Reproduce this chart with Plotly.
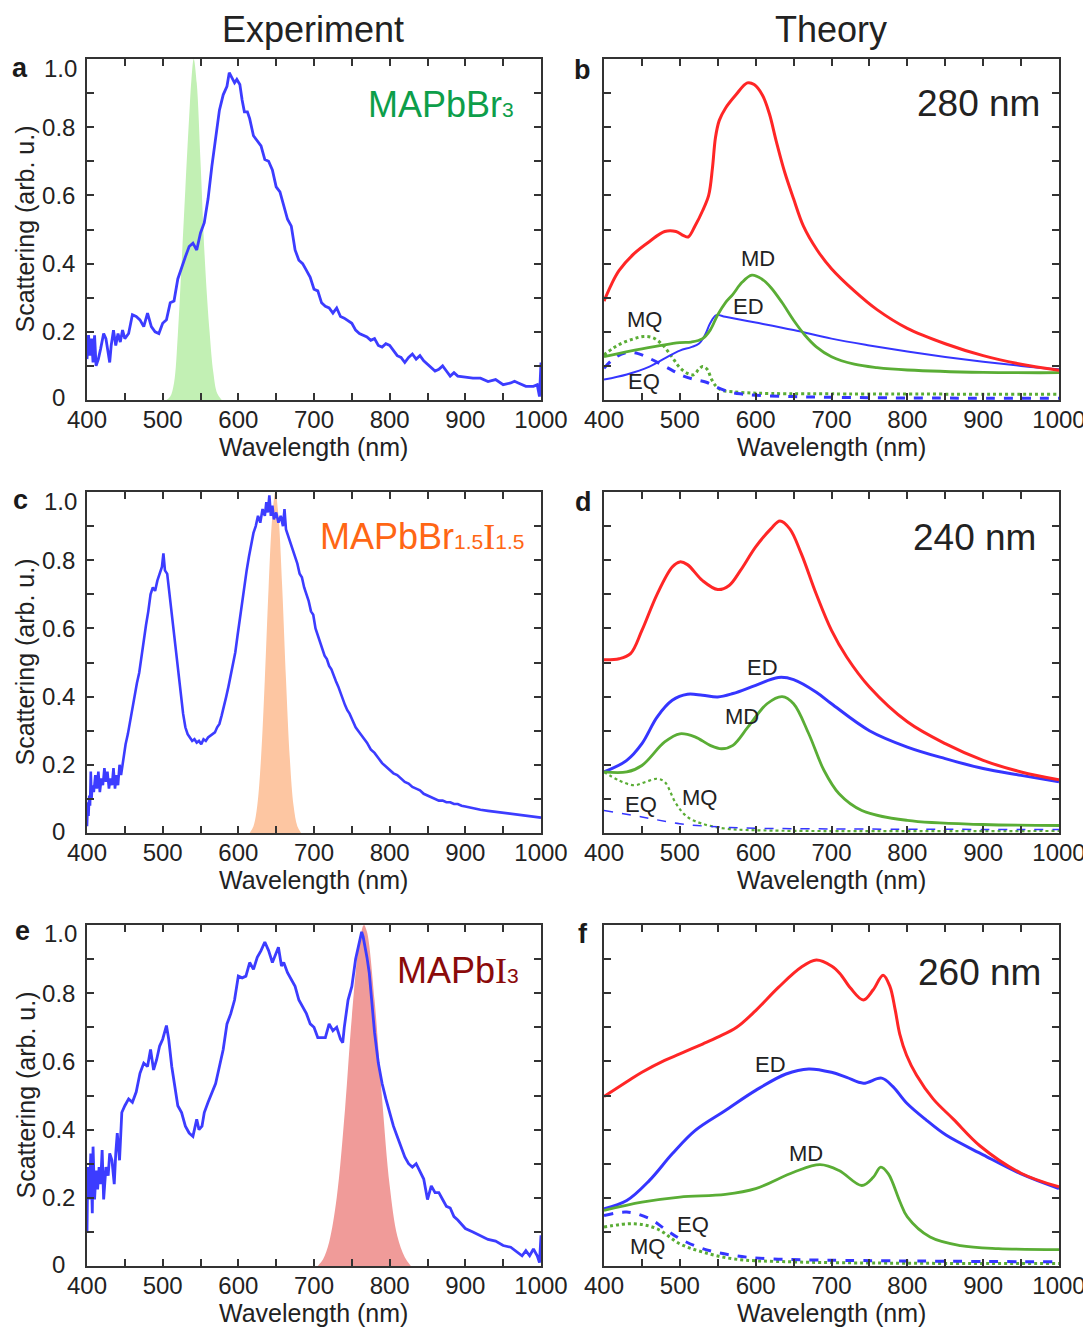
import plotly.graph_objects as go

W, H = 1091, 1327
OFF = 8  # page body margin offset of the plot div

# ---------------- Experimental data ----------------
a_wl = [400,402,404,406,408,410,412,415,418,422,425,428,430,432,435,438,441,444,447,450,455,460,465,470,475,480,485,490,495,500,505,510,515,520,525,530,535,540,545,550,555,560,565,570,575,580,585,588,592,595,598,602,605,608,612,615,620,625,630,635,640,645,650,655,660,665,670,675,680,685,690,695,700,705,710,715,720,725,730,735,740,750,755,760,770,775,780,785,790,795,800,805,810,815,820,825,830,835,840,845,850,855,860,865,870,875,880,885,890,900,910,920,930,940,950,960,965,970,980,990,995,998,999,1000]
a_val = [0.12,0.19,0.13,0.18,0.11,0.19,0.10,0.12,0.15,0.195,0.18,0.13,0.11,0.16,0.205,0.16,0.195,0.17,0.205,0.18,0.195,0.25,0.245,0.235,0.215,0.255,0.215,0.20,0.195,0.225,0.235,0.285,0.29,0.355,0.39,0.42,0.45,0.46,0.44,0.49,0.52,0.59,0.685,0.765,0.85,0.895,0.92,0.96,0.94,0.93,0.94,0.925,0.88,0.845,0.845,0.825,0.775,0.76,0.745,0.705,0.70,0.675,0.625,0.61,0.57,0.53,0.51,0.44,0.41,0.40,0.38,0.36,0.325,0.32,0.285,0.275,0.27,0.255,0.27,0.245,0.24,0.225,0.205,0.195,0.185,0.175,0.18,0.16,0.155,0.165,0.16,0.145,0.13,0.125,0.11,0.125,0.135,0.12,0.13,0.115,0.105,0.095,0.085,0.09,0.10,0.085,0.07,0.08,0.07,0.067,0.064,0.064,0.054,0.06,0.045,0.05,0.055,0.05,0.04,0.04,0.045,0.01,0.05,0.11]

a_fill_wl = [505,510,515,520,525,530,535,538,541,545,550,556,562,567,572,578]
a_fill_val = [0.0,0.01,0.05,0.19,0.40,0.62,0.83,0.94,1.0,0.93,0.70,0.40,0.20,0.08,0.02,0.0]

c_wl = [400,401,402,403,404,405,406,407,409,411,413,415,417,419,421,423,425,427,429,431,433,435,437,439,441,443,445,448,451,454,457,460,463,466,469,472,475,478,481,484,487,490,493,496,499,501,503,506,509,512,515,518,521,524,527,530,533,536,539,542,545,548,551,554,557,560,563,566,569,572,575,578,581,584,587,590,593,596,599,602,605,608,611,614,617,620,623,626,629,632,635,637,639,641,643,645,647,650,653,656,659,661,663,666,669,672,675,678,681,684,687,690,693,696,699,702,705,708,711,714,717,720,723,726,729,732,735,738,741,744,747,750,755,760,765,770,775,780,785,790,795,800,805,810,815,820,825,830,835,840,845,850,855,860,865,870,875,880,885,890,895,900,910,920,930,940,950,960,970,980,990,1000]
c_val = [0.02,0.09,0.05,0.11,0.08,0.18,0.10,0.14,0.12,0.17,0.13,0.18,0.12,0.16,0.14,0.19,0.15,0.18,0.13,0.16,0.14,0.19,0.13,0.17,0.14,0.20,0.17,0.22,0.26,0.29,0.33,0.36,0.40,0.44,0.47,0.52,0.56,0.61,0.65,0.70,0.72,0.71,0.74,0.76,0.78,0.82,0.77,0.76,0.70,0.64,0.59,0.52,0.46,0.40,0.35,0.31,0.29,0.28,0.27,0.275,0.265,0.27,0.26,0.275,0.27,0.28,0.285,0.29,0.295,0.31,0.32,0.345,0.37,0.40,0.43,0.46,0.50,0.53,0.58,0.63,0.68,0.72,0.77,0.81,0.85,0.88,0.90,0.93,0.91,0.95,0.93,0.97,0.94,0.99,0.93,0.96,0.92,0.94,0.91,0.93,0.90,0.95,0.89,0.87,0.85,0.83,0.81,0.79,0.76,0.75,0.72,0.70,0.68,0.65,0.64,0.60,0.58,0.56,0.545,0.52,0.51,0.49,0.48,0.46,0.445,0.43,0.41,0.39,0.375,0.36,0.35,0.335,0.31,0.295,0.28,0.265,0.245,0.235,0.22,0.205,0.195,0.185,0.175,0.17,0.16,0.15,0.145,0.135,0.13,0.125,0.115,0.11,0.105,0.10,0.095,0.095,0.09,0.09,0.085,0.085,0.08,0.078,0.072,0.068,0.065,0.062,0.058,0.055,0.052,0.05,0.047,0.045]

c_fill_wl = [615,620,625,630,635,640,645,649,653,658,663,668,673,678,683]
c_fill_val = [0.0,0.02,0.08,0.22,0.45,0.72,0.93,1.0,0.93,0.72,0.45,0.22,0.08,0.02,0.0]

e_wl = [400,401,403,405,407,408,410,412,414,416,418,420,422,425,428,430,433,436,438,440,443,446,450,455,460,465,470,475,480,484,488,492,496,500,505,508,512,515,520,525,530,535,540,545,548,552,555,560,565,570,575,580,585,590,595,600,605,610,615,620,625,630,635,640,645,650,653,657,660,665,670,675,680,685,690,695,700,705,710,715,720,725,730,735,738,740,745,750,755,760,763,765,768,770,773,777,780,785,790,795,800,805,810,815,820,825,830,835,840,845,850,855,860,865,870,875,880,885,890,900,910,920,930,940,950,960,970,975,980,985,990,995,998,1000]
e_val = [0.10,0.29,0.195,0.33,0.155,0.35,0.195,0.28,0.225,0.29,0.24,0.34,0.195,0.29,0.265,0.33,0.31,0.24,0.33,0.39,0.31,0.45,0.47,0.49,0.48,0.51,0.565,0.595,0.585,0.635,0.575,0.605,0.645,0.665,0.705,0.665,0.585,0.545,0.47,0.45,0.41,0.39,0.38,0.43,0.40,0.41,0.45,0.48,0.51,0.535,0.585,0.635,0.71,0.74,0.78,0.85,0.845,0.85,0.89,0.87,0.905,0.925,0.95,0.925,0.89,0.92,0.935,0.88,0.89,0.86,0.84,0.82,0.78,0.76,0.74,0.71,0.70,0.67,0.67,0.67,0.71,0.69,0.70,0.665,0.655,0.70,0.78,0.82,0.90,0.945,0.98,0.965,0.935,0.905,0.86,0.76,0.685,0.595,0.535,0.49,0.45,0.41,0.38,0.35,0.32,0.30,0.29,0.30,0.275,0.255,0.195,0.235,0.215,0.215,0.195,0.175,0.17,0.145,0.135,0.11,0.10,0.09,0.078,0.073,0.06,0.055,0.04,0.03,0.045,0.03,0.05,0.03,0.01,0.09]

e_fill_wl = [705,712,720,730,741,750,760,766,770,780,790,800,810,820,828]
e_fill_val = [0.0,0.02,0.07,0.20,0.46,0.73,0.95,1.0,0.98,0.78,0.49,0.236,0.089,0.026,0.0]

# ---------------- Theory data ----------------
b_red_wl = [400,410,420,440,460,480,495,505,511,520,530,538,543,547,552,560,574,589,598,609,618,627,638,650,663,681,700,730,760,800,850,900,950,1000]
b_red = [0.29,0.34,0.38,0.43,0.465,0.494,0.494,0.482,0.478,0.51,0.555,0.60,0.68,0.77,0.82,0.855,0.895,0.93,0.925,0.894,0.84,0.76,0.67,0.59,0.51,0.44,0.385,0.32,0.265,0.21,0.165,0.13,0.105,0.087]
b_md_wl = [400,450,500,515,530,540,550,560,570,582,595,608,620,635,650,665,680,700,730,760,800,900,1000]
b_md = [0.127,0.15,0.168,0.17,0.18,0.205,0.25,0.285,0.31,0.345,0.366,0.355,0.33,0.285,0.234,0.19,0.156,0.127,0.105,0.095,0.088,0.081,0.08]
b_ed_wl = [400,430,460,480,500,515,525,533,540,548,560,600,650,700,750,800,850,900,950,1000]
b_ed = [0.06,0.075,0.098,0.122,0.145,0.155,0.165,0.19,0.225,0.249,0.244,0.227,0.205,0.18,0.16,0.142,0.126,0.112,0.10,0.09]
b_eq_wl = [400,415,430,445,460,475,490,505,520,535,550,565,580,600,650,700,800,1000]
b_eq = [0.093,0.125,0.139,0.136,0.122,0.105,0.087,0.07,0.06,0.052,0.036,0.024,0.018,0.014,0.01,0.008,0.006,0.005]
b_mq_wl = [400,412,425,440,452,465,478,490,500,510,518,525,530,536,542,548,556,570,600,700,1000]
b_mq = [0.132,0.152,0.168,0.18,0.186,0.182,0.16,0.125,0.095,0.078,0.074,0.09,0.098,0.09,0.06,0.04,0.028,0.024,0.02,0.018,0.017]

d_red_wl = [400,420,435,450,470,490,500,510,530,550,565,580,600,620,632,645,660,680,700,720,750,800,850,900,950,1000]
d_red = [0.508,0.511,0.526,0.594,0.70,0.78,0.795,0.787,0.74,0.714,0.726,0.77,0.839,0.892,0.915,0.892,0.82,0.70,0.594,0.516,0.428,0.326,0.262,0.213,0.179,0.156]
d_ed_wl = [400,430,450,470,490,510,530,550,570,600,630,650,680,700,750,800,850,900,950,1000]
d_ed = [0.179,0.213,0.262,0.34,0.389,0.407,0.404,0.399,0.409,0.433,0.456,0.45,0.413,0.379,0.30,0.252,0.218,0.189,0.169,0.15]
d_md_wl = [400,430,450,480,500,520,540,555,570,590,615,635,650,670,690,710,740,800,900,1000]
d_md = [0.179,0.179,0.198,0.267,0.291,0.282,0.257,0.247,0.257,0.311,0.379,0.40,0.379,0.291,0.184,0.115,0.066,0.037,0.025,0.022]
d_mq_wl = [400,420,440,455,470,480,495,510,530,560,600,1000]
d_mq = [0.179,0.154,0.14,0.15,0.159,0.15,0.086,0.047,0.027,0.013,0.008,0.006]
d_eq_wl = [400,450,500,550,600,700,1000]
d_eq = [0.066,0.047,0.027,0.018,0.014,0.012,0.01]

f_red_wl = [400,430,450,480,500,530,550,575,600,630,660,680,700,711,725,742,755,768,777,784,790,799,812,834,861,896,950,1000]
f_red = [0.497,0.54,0.568,0.603,0.622,0.651,0.671,0.70,0.749,0.817,0.876,0.897,0.88,0.858,0.815,0.78,0.81,0.853,0.82,0.751,0.68,0.618,0.56,0.49,0.43,0.352,0.272,0.232]
f_ed_wl = [400,430,460,490,520,560,600,640,670,700,720,742,766,781,799,825,851,900,950,1000]
f_ed = [0.168,0.192,0.251,0.329,0.397,0.456,0.515,0.563,0.578,0.568,0.553,0.536,0.551,0.526,0.478,0.428,0.384,0.326,0.27,0.227]
f_md_wl = [400,450,500,560,600,650,685,710,740,755,765,775,790,800,830,870,920,1000]
f_md = [0.163,0.187,0.202,0.21,0.227,0.275,0.297,0.28,0.236,0.26,0.29,0.27,0.19,0.144,0.085,0.06,0.051,0.048]
f_eq_wl = [400,430,460,480,500,530,570,620,700,1000]
f_eq = [0.148,0.158,0.139,0.109,0.08,0.051,0.031,0.021,0.017,0.012]
f_mq_wl = [400,440,470,500,530,570,650,1000]
f_mq = [0.114,0.124,0.109,0.065,0.041,0.021,0.012,0.007]

x_ticks = [400,450,500,550,600,650,700,750,800,850,900,950,1000]
x_text = ["400","","500","","600","","700","","800","","900","","1000"]
y_ticks = [0,0.1,0.2,0.3,0.4,0.5,0.6,0.7,0.8,0.9,1.0]
y_text = ["","","0.2","","0.4","","0.6","","0.8","",""]
y_top_label = "1.0"
y_zero_label = "0"

# ---------------- Styling ----------------
FONT = "Liberation Sans, Arial, sans-serif"
EXP_BLUE = "#3c3cff"
T_RED = "#ff2626"
T_BLUE = "#3535ff"
T_GREEN = "#5aad35"
AX = "#333333"

fig = go.Figure()

# panel frames in page pixels: (left, right, top, bottom)
frames = {
    1: (87, 541, 59, 400),
    2: (604, 1059, 59, 400),
    3: (87, 541, 492, 833),
    4: (604, 1059, 492, 833),
    5: (87, 541, 925, 1266),
    6: (604, 1059, 925, 1266),
}

def px(x):
    return (x - OFF) / W

def py(y):
    return 1 - (y - OFF) / H

def ax_name(i, kind):
    return f"{kind}axis" if i == 1 else f"{kind}axis{i}"

def ref(i, kind):
    return kind if i == 1 else f"{kind}{i}"

layout_axes = {}
for i, (l, r, t, b) in frames.items():
    common = dict(showline=True, linecolor=AX, linewidth=1.5, mirror="ticks",
                  ticks="inside", ticklen=7, tickwidth=1.5, tickcolor=AX,
                  showgrid=False, zeroline=False, automargin=False,
                  tickfont=dict(family=FONT, size=24, color="#222"))
    xa = dict(common, domain=[px(l), px(r)], range=[400, 1000],
              tickmode="array", tickvals=x_ticks, ticktext=x_text,
              anchor=ref(i, "y"), ticklabelstandoff=-3)
    ya = dict(common, domain=[py(b), py(t)], range=[0, 1],
              tickmode="array", tickvals=y_ticks,
              ticktext=y_text if i % 2 == 1 else [""] * len(y_ticks),
              anchor=ref(i, "x"), ticklabelstandoff=5)
    layout_axes[ax_name(i, "x")] = xa
    layout_axes[ax_name(i, "y")] = ya

def add(i, x, y, **kw):
    fig.add_trace(go.Scatter(x=x, y=y, mode="lines", xaxis=ref(i, "x"),
                             yaxis=ref(i, "y"), showlegend=False,
                             hoverinfo="skip", **kw))

# experiment panels
add(1, a_fill_wl, a_fill_val, fill="tozeroy", fillcolor="#c2f0b4",
    line=dict(width=0, color="#c2f0b4", shape="spline"))
add(1, a_wl, a_val, line=dict(color=EXP_BLUE, width=2.8))
add(3, c_fill_wl, c_fill_val, fill="tozeroy", fillcolor="#fdc6a2",
    line=dict(width=0, color="#fdc6a2", shape="spline"))
add(3, c_wl, c_val, line=dict(color=EXP_BLUE, width=2.6))
add(5, e_fill_wl, e_fill_val, fill="tozeroy", fillcolor="#f09b99",
    line=dict(width=0, color="#f09b99", shape="spline"))
add(5, e_wl, e_val, line=dict(color=EXP_BLUE, width=2.8))

# theory panels
def theory(i, mq, eq, md, ed, red, mqw, eqw, edw):
    add(i, mq[0], mq[1], line=dict(color=T_GREEN, width=mqw, dash="dot", shape="spline"))
    add(i, eq[0], eq[1], line=dict(color=T_BLUE, width=eqw, dash="dash", shape="spline"))
    add(i, ed[0], ed[1], line=dict(color=T_BLUE, width=edw, shape="spline"))
    add(i, md[0], md[1], line=dict(color=T_GREEN, width=2.8, shape="spline"))
    add(i, red[0], red[1], line=dict(color=T_RED, width=3, shape="spline"))

theory(2, (b_mq_wl, b_mq), (b_eq_wl, b_eq), (b_md_wl, b_md), (b_ed_wl, b_ed),
       (b_red_wl, b_red), 3, 3, 2)
theory(4, (d_mq_wl, d_mq), (d_eq_wl, d_eq), (d_md_wl, d_md), (d_ed_wl, d_ed),
       (d_red_wl, d_red), 2.2, 1.5, 3)
theory(6, (f_mq_wl, f_mq), (f_eq_wl, f_eq), (f_md_wl, f_md), (f_ed_wl, f_ed),
       (f_red_wl, f_red), 3, 3, 3)

ann = []
def txt(x, y, s, size, color="#222", xanchor="center", yanchor="middle", **kw):
    ann.append(dict(x=px(x), y=py(y), xref="paper", yref="paper", text=s,
                    showarrow=False, xanchor=xanchor, yanchor=yanchor,
                    font=dict(family=FONT, size=size, color=color), **kw))

txt(313, 30, "Experiment", 36)
txt(831, 30, "Theory", 36)
for letter, x, y in [("a", 20, 68), ("b", 582, 70), ("c", 20, 500),
                     ("d", 583, 502), ("e", 22, 931), ("f", 583, 934)]:
    txt(x, y, f"<b>{letter}</b>", 27, color="#1a1a1a")
for i, (l, r, t, b) in frames.items():
    txt((l + r) / 2, b + 47, "Wavelength (nm)", 25)
    if i % 2 == 1:
        txt(25, (t + b) / 2, "Scattering (arb. u.)", 25, textangle=-90)
        # end labels of the y axis sit slightly inset, as in the reference
        txt(79, t + 9, y_top_label, 24, xanchor="right")
        txt(67, b - 2, y_zero_label, 24, xanchor="right")

sub = "font-size:21px"
serif = "font-family:'Liberation Serif','Times New Roman',serif"
txt(516, 104, f"MAPbBr<span style=\"{sub}\">3</span>", 36, color="#0d9e4a", xanchor="right")
txt(526, 536, f"MAPbBr<span style=\"{sub}\">1.5</span><span style=\"{serif}\">I</span><span style=\"{sub}\">1.5</span>",
    36, color="#ff6614", xanchor="right")
txt(521, 970, f"MAPb<span style=\"{serif}\">I</span><span style=\"{sub}\">3</span>", 36,
    color="#8b0a0a", xanchor="right")

txt(1042, 103, "280 nm", 37, xanchor="right")
txt(1038, 537, "240 nm", 37, xanchor="right")
txt(1043, 972, "260 nm", 37, xanchor="right")

def dlabel(i, wl, v, s):
    ann.append(dict(x=wl, y=v, xref=ref(i, "x"), yref=ref(i, "y"), text=s,
                    showarrow=False, font=dict(family=FONT, size=22, color="#222")))

dlabel(2, 453, 0.235, "MQ"); dlabel(2, 453, 0.054, "EQ")
dlabel(2, 591, 0.273, "ED"); dlabel(2, 603, 0.415, "MD")
dlabel(4, 609, 0.484, "ED"); dlabel(4, 582, 0.342, "MD")
dlabel(4, 449, 0.083, "EQ"); dlabel(4, 526, 0.103, "MQ")
dlabel(6, 620, 0.59, "ED"); dlabel(6, 666, 0.331, "MD")
dlabel(6, 517, 0.122, "EQ"); dlabel(6, 458, 0.056, "MQ")

fig.update_layout(width=W, height=H,
                  margin=dict(l=0, r=0, t=0, b=0, pad=0, autoexpand=False),
                  paper_bgcolor="white", plot_bgcolor="white",
                  annotations=ann, **layout_axes)

fig.write_html("out.html")
